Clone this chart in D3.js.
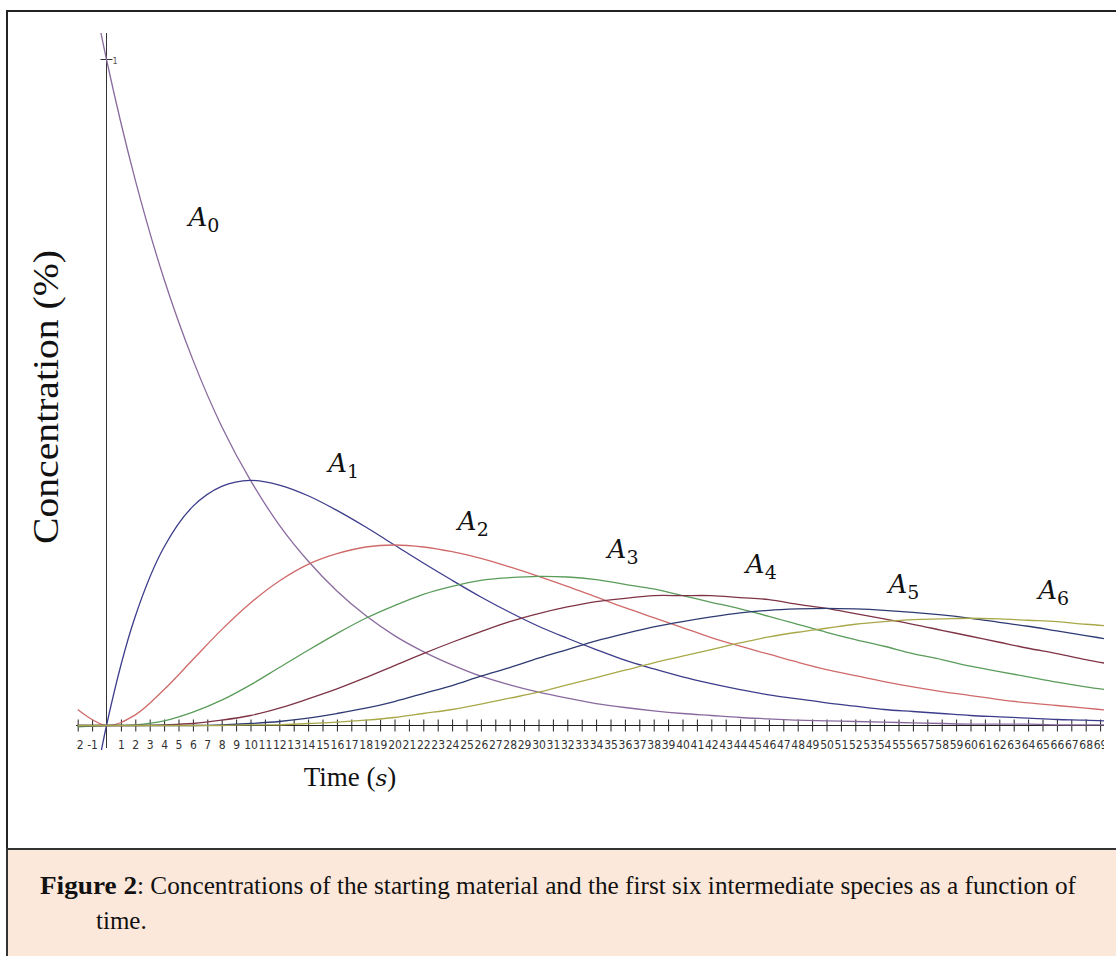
<!DOCTYPE html>
<meta charset="utf-8">
<script src="https://cdn.jsdelivr.net/npm/d3@7"></script>
<style>
  body { margin: 0; background: #fff; }
</style>
<body>
<div id="chart"></div>
<script>
  // time points (s) and concentrations
  var times = [-2, 0, 2, 4, 6, 8, 10, 12, 14, 16, 18, 20, 22, 24, 26, 28, 30, 32, 34, 36,
               38, 40, 42, 44, 46, 48, 50, 52, 54, 56, 58, 60, 62, 64, 66, 68, 70];

  var a0 = [1.221, 1, 0.819, 0.670, 0.549, 0.449, 0.368, 0.301, 0.247, 0.202, 0.165, 0.135,
            0.111, 0.091, 0.074, 0.061, 0.050, 0.041, 0.033, 0.027, 0.022, 0.018, 0.015, 0.012,
            0.010, 0.008, 0.007, 0.006, 0.005, 0.004, 0.003, 0.002, 0.002, 0.002, 0.001, 0.001, 0.001];
  var a1 = [-0.244, 0, 0.164, 0.268, 0.329, 0.359, 0.368, 0.361, 0.345, 0.323, 0.298, 0.271,
            0.244, 0.218, 0.193, 0.170, 0.149, 0.131, 0.114, 0.098, 0.085, 0.073, 0.063, 0.054,
            0.046, 0.040, 0.034, 0.029, 0.024, 0.021, 0.018, 0.015, 0.013, 0.011, 0.009, 0.008, 0.006];
  var a2 = [0.024, 0, 0.016, 0.054, 0.099, 0.144, 0.184, 0.217, 0.242, 0.258, 0.268, 0.271,
            0.268, 0.261, 0.251, 0.238, 0.224, 0.209, 0.193, 0.177, 0.162, 0.147, 0.132, 0.119,
            0.107, 0.095, 0.084, 0.075, 0.066, 0.058, 0.051, 0.045, 0.039, 0.034, 0.030, 0.026, 0.022];
  var a3 = [-0.002, 0, 0.001, 0.007, 0.020, 0.038, 0.061, 0.087, 0.113, 0.138, 0.161, 0.180,
            0.197, 0.209, 0.218, 0.222, 0.224, 0.223, 0.219, 0.212, 0.205, 0.195, 0.185, 0.175,
            0.164, 0.152, 0.140, 0.129, 0.119, 0.108, 0.099, 0.089, 0.081, 0.073, 0.065, 0.058, 0.052];
  var a4 = [0, 0, 0, 0.001, 0.003, 0.008, 0.015, 0.026, 0.040, 0.055, 0.072, 0.090,
            0.108, 0.125, 0.141, 0.156, 0.168, 0.178, 0.186, 0.191, 0.195, 0.195, 0.195, 0.192,
            0.189, 0.182, 0.176, 0.168, 0.160, 0.152, 0.143, 0.134, 0.125, 0.116, 0.108, 0.099, 0.091];
  var a5 = [0, 0, 0, 0, 0, 0.001, 0.003, 0.006, 0.011, 0.018, 0.026, 0.036,
            0.048, 0.060, 0.074, 0.087, 0.101, 0.114, 0.127, 0.138, 0.148, 0.156, 0.163, 0.169,
            0.173, 0.175, 0.176, 0.175, 0.173, 0.170, 0.166, 0.161, 0.155, 0.149, 0.142, 0.135, 0.128];
  var a6 = [0, 0, 0, 0, 0, 0, 0.001, 0.001, 0.003, 0.005, 0.008, 0.012,
            0.018, 0.024, 0.032, 0.041, 0.050, 0.061, 0.072, 0.083, 0.094, 0.104, 0.114, 0.124,
            0.133, 0.140, 0.146, 0.152, 0.156, 0.159, 0.160, 0.161, 0.160, 0.158, 0.156, 0.152, 0.149];

  var seriesNames = ["A0", "A1", "A2", "A3", "A4", "A5", "A6"];
  var seriesValues = [a0, a1, a2, a3, a4, a5, a6];
  var seriesColors = ["#8a6a9e", "#3c3c8c", "#d06a6a", "#5a9c5a", "#7e3446", "#2e3a72", "#a8a848"];

  // where the A_n labels sit, in data units (time, concentration)
  var labelAt = [[5.7, 0.75], [15.4, 0.38], [24.4, 0.293], [34.8, 0.251], [44.4, 0.229],
                 [54.3, 0.199], [64.7, 0.19]];

  var xTicks = d3.range(-2, 70).filter(function(d) { return d != 0; });

  var W = 1116, H = 956;
  var svg = d3.select("#chart").append("svg")
      .attr("width", W).attr("height", H);

  // outer frame
  svg.append("rect")
      .attr("x", 7).attr("y", 11).attr("width", W + 10).attr("height", H)
      .attr("fill", "#fff").attr("stroke", "#222").attr("stroke-width", 2);

  var x = d3.scaleLinear().domain([0, 69]).range([106.5, 106.5 + 69 * 14.4]);
  var y = d3.scaleLinear().domain([0, 1]).range([725.5, 59.5]);

  svg.append("clipPath").attr("id", "plotclip")
    .append("rect").attr("x", 76).attr("y", 33).attr("width", 1104 - 76).attr("height", 750 - 33);

  var plot = svg.append("g").attr("clip-path", "url(#plotclip)");

  // x axis: ticks crossing the line
  var xAxis = plot.append("g")
      .attr("transform", "translate(0," + y(0) + ")")
      .call(d3.axisBottom(x).tickValues(xTicks).tickSize(6).tickSizeOuter(0).tickPadding(9)
              .tickFormat(function(d) { return String(d); }));
  xAxis.select(".domain").remove();
  xAxis.append("line")
      .attr("x1", 76).attr("x2", 1104).attr("stroke", "#222").attr("stroke-width", 1);
  xAxis.selectAll(".tick line").attr("y1", -6).attr("y2", 6).attr("stroke", "#222");
  xAxis.selectAll(".tick text")
      .attr("fill", "#333")
      .style("font-family", "'DejaVu Sans Condensed', 'DejaVu Sans', sans-serif")
      .style("font-stretch", "condensed")
      .style("font-size", "12px");

  // y axis: plain line with one tick at 1
  plot.append("line")
      .attr("x1", x(0)).attr("x2", x(0)).attr("y1", 33).attr("y2", 748)
      .attr("stroke", "#333").attr("stroke-width", 1);
  plot.append("line")
      .attr("x1", x(0) - 6).attr("x2", x(0) + 6).attr("y1", y(1)).attr("y2", y(1))
      .attr("stroke", "#333");
  plot.append("text")
      .attr("x", x(0) + 6).attr("y", y(1) + 4)
      .attr("fill", "#555").style("font-family", "'DejaVu Sans Condensed', sans-serif")
      .style("font-size", "9px").text("1");

  var line = d3.line()
      .x(function(d) { return x(d[0]); })
      .y(function(d) { return y(d[1]); })
      .curve(d3.curveCatmullRom);

  seriesValues.forEach(function(vals, i) {
    var pts = times.map(function(t, j) { return [t, vals[j]]; });
    plot.append("path")
        .attr("d", line(pts))
        .attr("fill", "none")
        .attr("stroke", seriesColors[i])
        .attr("stroke-width", 1.3);
  });

  // A_n labels
  seriesNames.forEach(function(name, i) {
    var t = svg.append("text")
        .attr("x", x(labelAt[i][0])).attr("y", y(labelAt[i][1]))
        .attr("fill", "#111")
        .style("font-family", "'DejaVu Serif', serif");
    t.append("tspan").style("font-style", "italic").style("font-size", "26px").text("A");
    t.append("tspan").attr("dy", 6).style("font-size", "19px").text(name.slice(1));
  });

  // axis titles
  svg.append("text")
      .attr("transform", "translate(58,397) rotate(-90)")
      .attr("text-anchor", "middle")
      .attr("textLength", 294).attr("lengthAdjust", "spacingAndGlyphs")
      .style("font-family", "'Liberation Serif', 'Times New Roman', serif")
      .style("font-size", "36px")
      .attr("fill", "#111")
      .text("Concentration (%)");

  var tt = svg.append("text")
      .attr("x", 350).attr("y", 786)
      .attr("text-anchor", "middle")
      .style("font-family", "'Liberation Serif', 'Times New Roman', serif")
      .style("font-size", "27px")
      .attr("fill", "#111");
  tt.append("tspan").text("Time (");
  tt.append("tspan").style("font-style", "italic").style("font-family", "'DejaVu Serif', serif").style("font-size", "23px").text("s");
  tt.append("tspan").text(")");

  // caption box
  svg.append("rect")
      .attr("x", 7).attr("y", 849).attr("width", W).attr("height", H - 849 + 10)
      .attr("fill", "#fce8da").attr("stroke", "#333").attr("stroke-width", 2);

  var cap = svg.append("text")
      .attr("x", 40).attr("y", 894)
      .style("font-family", "'Liberation Serif', 'Times New Roman', serif")
      .attr("fill", "#111");
  cap.append("tspan").style("font-weight", "bold").style("font-size", "25px")
      .attr("textLength", 97).attr("lengthAdjust", "spacingAndGlyphs").text("Figure 2");
  cap.append("tspan").style("font-size", "25px")
      .attr("textLength", 939).attr("lengthAdjust", "spacingAndGlyphs")
      .text(": Concentrations of the starting material and the first six intermediate species as a function of");

  svg.append("text")
      .attr("x", 96).attr("y", 929)
      .style("font-family", "'Liberation Serif', 'Times New Roman', serif")
      .style("font-size", "25px")
      .attr("fill", "#111")
      .text("time.");
</script>
</body>
